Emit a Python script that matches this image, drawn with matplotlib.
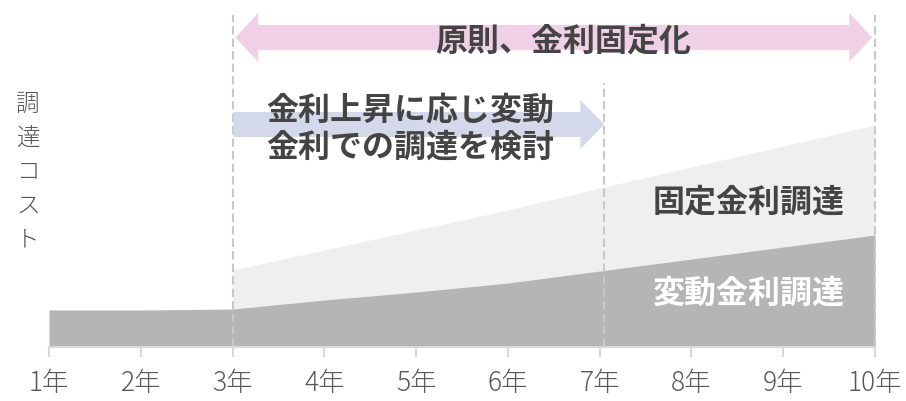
import matplotlib.pyplot as plt
from matplotlib.patches import Polygon

plt.rcParams['font.family'] = ['Noto Sans CJK JP', 'DejaVu Sans']

years = [1, 2, 3, 4, 5, 6, 7, 8, 9, 10]
year_labels = [f"{y}年" for y in years]
# cost levels (arbitrary units)
floating_cost = [37, 37, 38, 47, 55, 64, 76, 88, 100, 112]
fixed_years = [3, 4, 5, 6, 7, 8, 9, 10]
fixed_cost = [77, 97, 117, 137, 159, 180, 201, 222]

dark_grey = '#b5b5b5'
light_grey = '#efefef'
text_dark = '#444444'


def h_arrow(ax, x0, x1, y, shaft, head, head_len, color, both=False):
    # horizontal arrow polygon in data units
    pts = []
    if both:
        pts += [(x0, y), (x0 + head_len, y + head), (x0 + head_len, y + shaft)]
    else:
        pts += [(x0, y + shaft)]
    pts += [(x1 - head_len, y + shaft), (x1 - head_len, y + head), (x1, y),
            (x1 - head_len, y - head), (x1 - head_len, y - shaft)]
    if both:
        pts += [(x0 + head_len, y - shaft), (x0 + head_len, y - head)]
    else:
        pts += [(x0, y - shaft)]
    ax.add_patch(Polygon(pts, closed=True, facecolor=color, edgecolor='none', zorder=3))


fig = plt.figure(figsize=(9.06, 4.01), dpi=100)
ax = fig.add_axes([49 / 906, 54 / 401, 826 / 906, 347 / 401])
ax.set_xlim(1, 10)
ax.set_ylim(0, 347)

fixed_base = floating_cost[2:]
ax.fill_between(fixed_years, fixed_base, fixed_cost, color=light_grey, lw=0, zorder=1)
ax.fill_between(years, 0, floating_cost, color=dark_grey, lw=0, zorder=1)

# dashed guide lines
for x, top in [(3.01, 332), (7.05, 264), (10, 332)]:
    ax.plot([x, x], [0, top], color='#c8c8c8', lw=1.5, ls=(0, (4, 2)), zorder=2,
            clip_on=False)

# arrows
h_arrow(ax, 3.03, 9.97, 309.5, 12.5, 24.5, 0.25, '#f0d0e6', both=True)
h_arrow(ax, 3.01, 7.05, 222.5, 12.5, 24.5, 0.26, '#d3d8ea')

ax.text(6.6, 306, '原則、金利固定化', ha='center', va='center', fontsize=23,
        fontweight='bold', color=text_dark, zorder=4)
ax.text(3.37, 237, '金利上昇に応じ変動', ha='left', va='center', fontsize=23,
        fontweight='bold', color=text_dark, zorder=4)
ax.text(3.37, 199, '金利での調達を検討', ha='left', va='center', fontsize=23,
        fontweight='bold', color=text_dark, zorder=4)
ax.text(8.62, 145, '固定金利調達', ha='center', va='center', fontsize=23,
        fontweight='bold', color=text_dark, zorder=4)
ax.text(8.62, 53, '変動金利調達', ha='center', va='center', fontsize=23,
        fontweight='bold', color='white', zorder=4)

# vertical y label, one char per line
for i, ch in enumerate('調達コスト'):
    fig.text(28 / 906, 1 - (104 + i * 34) / 401, ch, ha='center', va='center',
             fontsize=17, fontweight='light', color='#555555')

ax.set_xticks(years)
ax.set_xticklabels(year_labels, fontsize=19, fontweight='light', color='#595959')
ax.set_yticks([])
for s in ['top', 'left', 'right']:
    ax.spines[s].set_visible(False)
ax.spines['bottom'].set_color('#d9d9d9')
ax.spines['bottom'].set_linewidth(1.5)
ax.spines['bottom'].set_zorder(5)
ax.tick_params(axis='x', length=7, width=1.5, color='#d9d9d9', pad=9)

fig.savefig('out.png', dpi=100)
